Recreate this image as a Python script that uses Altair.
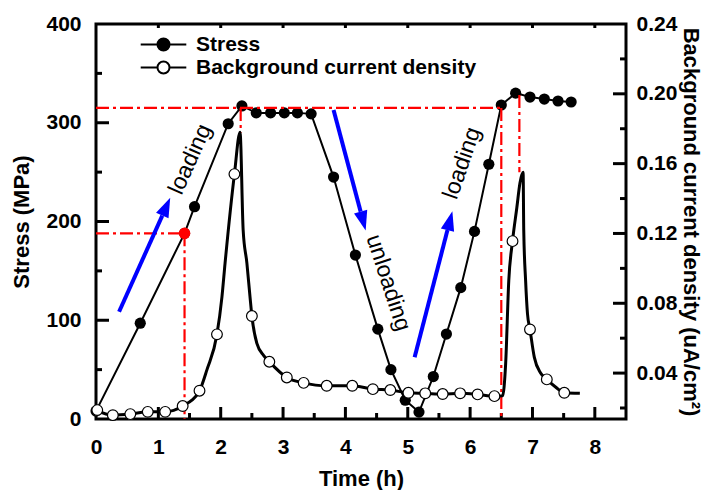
import altair as alt
import pandas as pd

# ---------------- data ----------------
stress_t = [0.0, 0.71, 1.42, 1.58, 2.12, 2.34, 2.57, 2.80, 3.02, 3.23, 3.45, 3.81, 4.16,
            4.52, 4.73, 4.96, 5.18, 5.41, 5.62, 5.85, 6.07, 6.30, 6.50, 6.73, 6.96, 7.19,
            7.41, 7.62]
stress_s = [8, 97, 188, 215, 299, 317, 310, 310, 310, 310, 309, 245, 166,
            91, 50, 19, 7, 43, 86, 133, 190, 258, 318, 330, 326, 324,
            322, 321]

red_pt_t = [1.42]
red_pt_s = [188]

cur_line_t = [0.0, 0.27, 0.55, 0.83, 1.11, 1.39, 1.66, 1.78, 1.94, 2.02, 2.07, 2.22, 2.31,
              2.36, 2.42, 2.47, 2.50, 2.58, 2.69, 2.78, 3.06, 3.33, 3.70, 4.11, 4.44, 4.72,
              5.01, 5.28, 5.56, 5.84, 6.12, 6.39, 6.52, 6.57, 6.62, 6.68, 6.75, 6.80, 6.85,
              6.86, 6.89, 6.92, 6.96, 7.03, 7.13, 7.23, 7.37, 7.51, 7.76]
cur_line_v = [0.0188, 0.0159, 0.0165, 0.0178, 0.0178, 0.0211, 0.0299, 0.042, 0.0622, 0.0837,
              0.103, 0.154, 0.178, 0.122, 0.103, 0.0837, 0.0727, 0.057, 0.050, 0.0465,
              0.0375, 0.0344, 0.0327, 0.0327, 0.0308, 0.0303, 0.0287, 0.0284, 0.0280, 0.0284,
              0.0278, 0.0268, 0.0270, 0.0455, 0.093, 0.1156, 0.135, 0.149, 0.155, 0.122,
              0.093, 0.074, 0.065, 0.049, 0.040, 0.0364, 0.032, 0.0287, 0.0284]

cur_mark_t = [0.02, 0.27, 0.55, 0.83, 1.11, 1.39, 1.66, 1.94, 2.22, 2.50, 2.78, 3.06, 3.33,
              3.70, 4.11, 4.44, 4.72, 5.01, 5.28, 5.56, 5.84, 6.12, 6.39, 6.68, 6.96, 7.23, 7.51]
cur_mark_v = [0.0188, 0.0159, 0.0165, 0.0178, 0.0178, 0.0211, 0.0299, 0.0622, 0.154, 0.0727,
              0.0465, 0.0375, 0.0344, 0.0327, 0.0327, 0.0308, 0.0303, 0.0287, 0.0284, 0.0280,
              0.0284, 0.0278, 0.0268, 0.1156, 0.065, 0.0364, 0.0287]

# red dash-dot guide segments (time, stress)
red_t1 = [0.0, 1.42, 0.0, 2.32, 6.50, 6.79]
red_t2 = [1.42, 1.42, 6.50, 2.32, 6.50, 6.79]
red_s1 = [188, 188, 315, 315, 315, 328]
red_s2 = [188, 0, 315, 290, 0, 250]

# blue arrows: tail -> base of head, head angle
arrow_t1 = [0.37, 3.81, 5.11]
arrow_s1 = [108.6, 313, 62.5]
arrow_t2 = [1.063, 4.244, 5.637]
arrow_s2 = [206, 210, 191.3]
arrow_angle = [24, 165, 14.5]

ann_text = ["loading", "unloading", "loading"]
ann_t = [1.51, 4.69, 5.87]
ann_s = [263, 138, 259]
ann_angle = [294, 72, 289]

legend_labels = ["Stress", "Background current density"]

x_ticks = [0, 1, 2, 3, 4, 5, 6, 7, 8]
x_minor = [0.5, 1.5, 2.5, 3.5, 4.5, 5.5, 6.5, 7.5]
s_ticks = [0, 100, 200, 300, 400]
s_major_in = [100, 200, 300]
s_minor = [50, 150, 250, 350]
c_ticks = [0.04, 0.08, 0.12, 0.16, 0.20, 0.24]
c_major_in = [0.04, 0.08, 0.12, 0.16, 0.20]
c_minor = [0.02, 0.06, 0.10, 0.14, 0.18, 0.22]

# ---------------- chart ----------------
FONT = "Liberation Sans"
W, H = 530, 395

S_DOM = [0, 400]
C_DOM = [0.0137, 0.24]


def xs():
    return alt.Scale(domain=[0, 8.5], nice=False, zero=False)


def ys():
    return alt.Scale(domain=S_DOM, nice=False)


def yc():
    return alt.Scale(domain=C_DOM, nice=False, zero=False)


stress_df = pd.DataFrame({"t": stress_t, "s": stress_s})
red_df = pd.DataFrame({"t": red_pt_t, "s": red_pt_s})
cur_line_df = pd.DataFrame({"t": cur_line_t, "v": cur_line_v})
cur_mark_df = pd.DataFrame({"t": cur_mark_t, "v": cur_mark_v})
seg_df = pd.DataFrame({"t1": red_t1, "t2": red_t2, "s1": red_s1, "s2": red_s2})
arr_df = pd.DataFrame({"t1": arrow_t1, "t2": arrow_t2, "s1": arrow_s1, "s2": arrow_s2,
                       "ang": arrow_angle})
ann_df = pd.DataFrame({"txt": ann_text, "t": ann_t, "s": ann_s, "ang": ann_angle})
leg_df = pd.DataFrame({"series": legend_labels})


def x_axis():
    return alt.Axis(values=x_ticks, title="Time (h)", domain=False, ticks=False, grid=False,
                    labelFont=FONT, labelFontSize=21, labelFontWeight="bold", labelColor="black",
                    labelPadding=17, titleFont=FONT, titleFontSize=22, titleFontWeight="bold",
                    titleColor="black", titlePadding=11, labelFlush=False)


s_axis = alt.Axis(values=s_ticks, title="Stress (MPa)", domain=False, ticks=False, grid=False,
                  orient="left",
                  labelFont=FONT, labelFontSize=21, labelFontWeight="bold", labelColor="black",
                  labelPadding=15, titleFont=FONT, titleFontSize=22, titleFontWeight="bold",
                  titleColor="black", titlePadding=12, labelFlush=False)
c_axis = alt.Axis(values=c_ticks, format=".2f", title="Background current density (uA/cm²)",
                  orient="right", domain=False, ticks=False, grid=False,
                  labelFont=FONT, labelFontSize=21, labelFontWeight="bold", labelColor="black",
                  labelPadding=10, titleFont=FONT, titleFontSize=22, titleFontWeight="bold",
                  titleColor="black", titlePadding=2, labelFlush=False)


def X(f):
    return alt.X(f, type="quantitative", scale=xs(), axis=x_axis())


def YS(f, **k):
    return alt.Y(f, type="quantitative", scale=ys(), **k)


def YC(f, **k):
    return alt.Y(f, type="quantitative", scale=yc(), **k)


stress_line = alt.Chart(stress_df).mark_line(color="black", strokeWidth=2).encode(
    x=X("t"), y=YS("s", axis=s_axis))
stress_pts = alt.Chart(stress_df).mark_point(filled=True, color="black", size=125, opacity=1).encode(
    x=X("t"), y=YS("s", axis=None))

seg = alt.Chart(seg_df).mark_rule(color="#ff0000", strokeWidth=2.2, strokeDash=[13, 4, 3, 4]).encode(
    x=X("t1"), x2="t2", y=YS("s1", axis=None), y2="s2")

red_pt = alt.Chart(red_df).mark_point(filled=True, color="#ff0000", size=135, opacity=1).encode(
    x=X("t"), y=YS("s", axis=None))

arr_line = alt.Chart(arr_df).mark_rule(color="#0000ff", strokeWidth=4).encode(
    x=X("t1"), x2="t2", y=YS("s1", axis=None), y2="s2")
arr_head = alt.Chart(arr_df).mark_point(
    shape="M0,-2L0.7,0L-0.7,0Z", filled=True, color="#0000ff", size=380, opacity=1).encode(
    x=X("t2"), y=YS("s2", axis=None), angle=alt.Angle("ang:Q", scale=None))

ann = alt.Chart(ann_df).mark_text(font=FONT, fontSize=23, color="black", align="center",
                                  baseline="middle").encode(
    x=X("t"), y=YS("s", axis=None), text="txt:N", angle=alt.Angle("ang:Q", scale=None))


def hticks(vals, yenc, x0, x1):
    return alt.Chart(pd.DataFrame({"v": vals})).mark_rule(color="black", strokeWidth=3).encode(
        y=yenc("v", axis=None), x=alt.value(x0), x2=alt.value(x1))


def vticks(vals, y0, y1):
    return alt.Chart(pd.DataFrame({"v": vals})).mark_rule(color="black", strokeWidth=3).encode(
        x=X("v"), y=alt.value(y0), y2=alt.value(y1))


left_major = hticks(s_major_in, YS, 0, 13)
left_minor = hticks(s_minor, YS, 0, 6)
right_major = hticks(c_major_in, YC, W, W - 13)
right_minor = hticks(c_minor, YC, W, W - 6)
bot_major = vticks(x_ticks[1:], H, H - 12)
bot_minor = vticks(x_minor, H, H - 6)
top_major = vticks(x_ticks[1:], 0, 4)

SYM = "M-3.8,0L-1,0M1,0L3.8,0M1,0A1,1,0,1,1,-1,0A1,1,0,1,1,1,0Z"
leg = alt.Legend(title=None, orient="none", legendX=57, legendY=10, symbolSize=144,
                 symbolType=SYM, symbolStrokeWidth=2, symbolStrokeColor="black",
                 labelFont=FONT, labelFontSize=21, labelFontWeight="bold", labelColor="black",
                 labelOffset=22, rowPadding=1, symbolOpacity=1, labelLimit=0)
legend_layer = alt.Chart(leg_df).mark_point(opacity=1, filled=True).encode(
    fill=alt.Fill("series:N", scale=alt.Scale(domain=legend_labels, range=["black", "white"]),
                  legend=leg),
).transform_filter("false")

cur_line = alt.Chart(cur_line_df).mark_line(color="black", strokeWidth=3, interpolate="monotone").encode(
    x=X("t"), y=YC("v", axis=c_axis))
cur_pts = alt.Chart(cur_mark_df).mark_point(shape="circle", fill="white", stroke="black",
                                            strokeWidth=1.2, size=115, opacity=1, filled=False).encode(
    x=X("t"), y=YC("v", axis=None))

chart = alt.layer(
    stress_line, left_major, left_minor, right_major, right_minor, bot_major, bot_minor, top_major,
    stress_pts, seg, cur_line, cur_pts, red_pt, arr_line, arr_head, ann, legend_layer
).resolve_scale(y="independent").properties(
    width=W, height=H,
    autosize=alt.AutoSizeParams(type="none"),
    padding={"left": 88, "top": 16, "right": 79, "bottom": 71},
).configure_view(stroke="black", strokeWidth=3)

chart.save("out.html", embed_options={"renderer": "svg", "actions": False})
